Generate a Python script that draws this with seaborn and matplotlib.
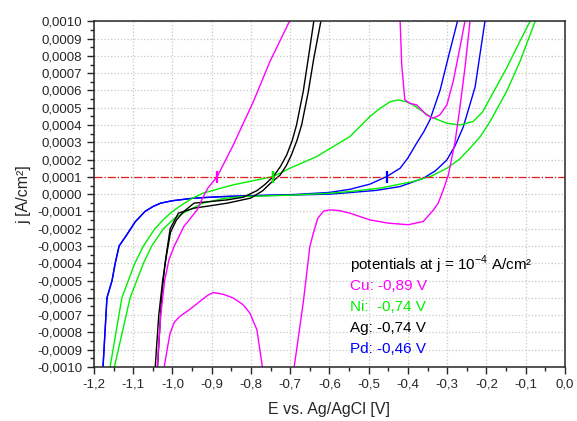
import matplotlib
matplotlib.use("Agg")
import matplotlib.pyplot as plt
import matplotlib.ticker as mticker
import seaborn as sns
import numpy as np
import pandas as pd

# current density values are in units of 1e-4 A/cm2, potentials in V
# Pd (blue)
pd_up_E = [-1.177, -1.167, -1.154, -1.146, -1.136, -1.115, -1.095, -1.070, -1.050, -1.030, -1.000,
           -0.945, -0.880, -0.818, -0.690, -0.600, -0.548, -0.497, -0.454, -0.420, -0.400,
           -0.378, -0.360, -0.344, -0.318, -0.297, -0.274]
pd_up_j = [-10.0, -6.0, -5.0, -4.0, -3.0, -2.3, -1.6, -1.0, -0.72, -0.52, -0.38,
           -0.23, -0.15, -0.10, -0.02, 0.10, 0.28, 0.58, 1.02, 1.50, 2.10,
           2.95, 3.60, 4.30, 6.03, 7.95, 10.0]
pd_lo_E = [-1.177, -1.167, -1.154, -1.146, -1.136, -1.115, -1.095, -1.070, -1.050, -1.030, -1.000,
           -0.945, -0.880, -0.818, -0.690, -0.600, -0.548, -0.480, -0.420, -0.361, -0.330,
           -0.301, -0.280, -0.259, -0.229, -0.204]
pd_lo_j = [-10.0, -6.0, -5.0, -4.0, -3.0, -2.3, -1.6, -1.0, -0.72, -0.52, -0.38,
           -0.23, -0.15, -0.10, -0.05, 0.00, 0.09, 0.22, 0.44, 0.92, 1.35,
           1.98, 2.80, 3.90, 6.20, 10.0]

# Ni (green)
ni_up_E = [-1.159, -1.129, -1.096, -1.074, -1.045, -1.020, -1.000, -0.975, -0.950, -0.922, -0.845,
           -0.743, -0.701, -0.633, -0.548, -0.497, -0.471, -0.445, -0.425, -0.405, -0.387, -0.344,
           -0.301, -0.268, -0.234, -0.210, -0.191, -0.149, -0.115, -0.089]
ni_up_j = [-10.0, -6.0, -4.0, -3.0, -2.0, -1.4, -1.0, -0.6, -0.25, 0.06, 0.54,
           1.02, 1.50, 2.17, 3.33, 4.49, 4.97, 5.35, 5.45, 5.35, 5.16, 4.49,
           4.10, 4.00, 4.20, 4.75, 5.55, 7.28, 8.84, 10.0]
ni_lo_E = [-1.148, -1.108, -1.074, -1.053, -1.023, -0.995, -0.965, -0.922, -0.870, -0.820, -0.700,
           -0.600, -0.548, -0.471, -0.387, -0.340, -0.301, -0.270, -0.242, -0.215, -0.191,
           -0.149, -0.115, -0.076]
ni_lo_j = [-10.0, -6.0, -4.0, -3.0, -2.0, -1.4, -1.0, -0.52, -0.25, -0.14, -0.06,
           0.05, 0.15, 0.35, 0.73, 1.05, 1.50, 2.00, 2.66, 3.35, 4.20,
           5.93, 7.66, 10.0]

# Ag (black)
ag_a_E = [-1.044, -1.035, -1.025, -1.015, -1.005, -0.990, -0.971, -0.945, -0.900, -0.860, -0.820,
          -0.785, -0.765, -0.743, -0.725, -0.709, -0.695, -0.684, -0.667, -0.654, -0.640]
ag_a_j = [-10.0, -7.0, -5.0, -3.5, -2.2, -1.5, -1.0, -0.52, -0.42, -0.33, -0.18,
          0.20, 0.55, 1.02, 1.60, 2.27, 3.10, 4.00, 5.93, 7.86, 10.0]
ag_b_E = [-1.038, -1.028, -1.019, -1.006, -0.985, -0.945, -0.900, -0.860, -0.801, -0.770, -0.750,
          -0.726, -0.710, -0.697, -0.683, -0.671, -0.654, -0.640, -0.622]
ag_b_j = [-10.0, -6.0, -4.0, -2.0, -1.1, -0.81, -0.66, -0.52, -0.23, 0.20, 0.64,
          1.10, 1.65, 2.27, 3.10, 4.00, 5.93, 7.86, 10.0]

# Cu (magenta), several branches
cu_a_E = [-0.242, -0.255, -0.268, -0.280, -0.297, -0.310, -0.323, -0.335, -0.361, -0.399, -0.450,
          -0.497, -0.548, -0.575, -0.599, -0.615, -0.630, -0.641, -0.650, -0.667, -0.690]
cu_a_j = [10.0, 7.28, 4.97, 3.04, 1.12, 0.25, -0.52, -0.91, -1.58, -1.77, -1.68,
          -1.49, -1.10, -0.95, -0.91, -0.98, -1.40, -2.25, -3.03, -6.30, -10.0]
cu_b_E = [-1.021, -1.013, -1.006, -0.995, -0.981, -0.955, -0.930, -0.910, -0.896, -0.870, -0.845,
          -0.820, -0.803, -0.785, -0.771]
cu_b_j = [-10.0, -8.90, -8.03, -7.40, -7.07, -6.65, -6.20, -5.85, -5.69, -5.80, -6.01,
          -6.40, -6.88, -7.84, -10.0]
cu_c_E = [-1.039, -1.030, -1.020, -1.009, -0.996, -0.971, -0.937, -0.925, -0.910, -0.886,
          -0.845, -0.794, -0.752, -0.702]
cu_c_j = [-10.0, -7.0, -5.0, -3.8, -3.03, -1.87, -0.91, -0.30, 0.35, 1.02,
          2.85, 5.35, 7.66, 10.0]
cu_d_E = [-0.420, -0.416, -0.408, -0.395, -0.378, -0.365, -0.353, -0.336, -0.319, -0.301,
          -0.285, -0.268, -0.255]
cu_d_j = [10.0, 7.47, 5.45, 5.26, 5.16, 4.87, 4.58, 4.39, 4.58, 5.16,
          6.51, 8.44, 10.0]

# potentials at j = 1e-4 A/cm2
metals = ["Cu", "Ni", "Ag", "Pd"]
potentials = [-0.886, -0.743, -0.743, -0.454]
potential_labels = ["Cu: -0,89 V", "Ni:  -0,74 V", "Ag: -0,74 V", "Pd: -0,46 V"]
colors = {"Cu": "#ff00ff", "Ni": "#00f000", "Ag": "#000000", "Pd": "#0000ff"}

sns.set_style("ticks")
plt.rcParams["font.family"] = ["Liberation Sans", "DejaVu Sans"]
plt.rcParams["mathtext.fontset"] = "custom"
plt.rcParams["mathtext.rm"] = "Liberation Sans"

fig = plt.figure(figsize=(5.77, 4.21), dpi=100)
ax = fig.add_axes([0.1629, 0.1283, 0.8163, 0.8211])

branches = [
    ("Pd", pd_up_E, pd_up_j), ("Pd", pd_lo_E, pd_lo_j),
    ("Ni", ni_up_E, ni_up_j), ("Ni", ni_lo_E, ni_lo_j),
    ("Ag", ag_a_E, ag_a_j), ("Ag", ag_b_E, ag_b_j),
    ("Cu", cu_a_E, cu_a_j), ("Cu", cu_b_E, cu_b_j),
    ("Cu", cu_c_E, cu_c_j), ("Cu", cu_d_E, cu_d_j),
]
for metal, E, j in branches:
    df = pd.DataFrame({"E": E, "j": np.array(j) * 1e-4})
    sns.lineplot(data=df, x="E", y="j", sort=False, estimator=None,
                 color=colors[metal], lw=1.0, ax=ax)

# reference current line with crossing marks (Ag drawn first so Ni stays on top)
ax.axhline(1e-4, color="#e02020", lw=0.9, ls="-.")
for metal in ["Ag", "Cu", "Pd", "Ni"]:
    E0 = potentials[metals.index(metal)]
    ax.plot([E0], [1e-4], marker="|", ms=9, mew=1.6, color=colors[metal])

ax.set_xlim(-1.2, 0.0)
ax.set_ylim(-0.0010, 0.0010)
ax.xaxis.set_major_locator(mticker.MultipleLocator(0.1))
ax.xaxis.set_minor_locator(mticker.MultipleLocator(0.05))
ax.yaxis.set_major_locator(mticker.MultipleLocator(0.0001))
ax.yaxis.set_minor_locator(mticker.MultipleLocator(0.00005))


def fmt_x(v, pos):
    s = f"{v:.1f}".replace(".", ",")
    return "0,0" if s == "-0,0" else s


def fmt_y(v, pos):
    s = f"{v:.4f}".replace(".", ",")
    return "0,0000" if s == "-0,0000" else s


ax.xaxis.set_major_formatter(mticker.FuncFormatter(fmt_x))
ax.yaxis.set_major_formatter(mticker.FuncFormatter(fmt_y))
ax.tick_params(which="major", direction="out", length=5, width=1, labelsize=9.5)
ax.tick_params(which="minor", direction="out", length=3, width=1)
ax.grid(True, which="major", color="#c8c8c8", ls=":", lw=0.9)
for sp in ax.spines.values():
    sp.set_linewidth(1.1)
    sp.set_visible(True)

ax.set_xlabel("E vs. Ag/AgCl [V]", fontsize=11.5, labelpad=8)
ax.set_ylabel("j [A/cm²]", fontsize=11.5, labelpad=4)

ax.text(-0.548, -0.00041, "potentials at j = 10$^{\\mathregular{-4}}$ A/cm²",
        fontsize=11, color="black", va="center")
for k, (metal, lab) in enumerate(zip(metals, potential_labels)):
    ax.text(-0.548, -0.00053 - k * 0.000122, lab, fontsize=11,
            color=colors[metal], va="center")

fig.savefig("out.png", dpi=100)
